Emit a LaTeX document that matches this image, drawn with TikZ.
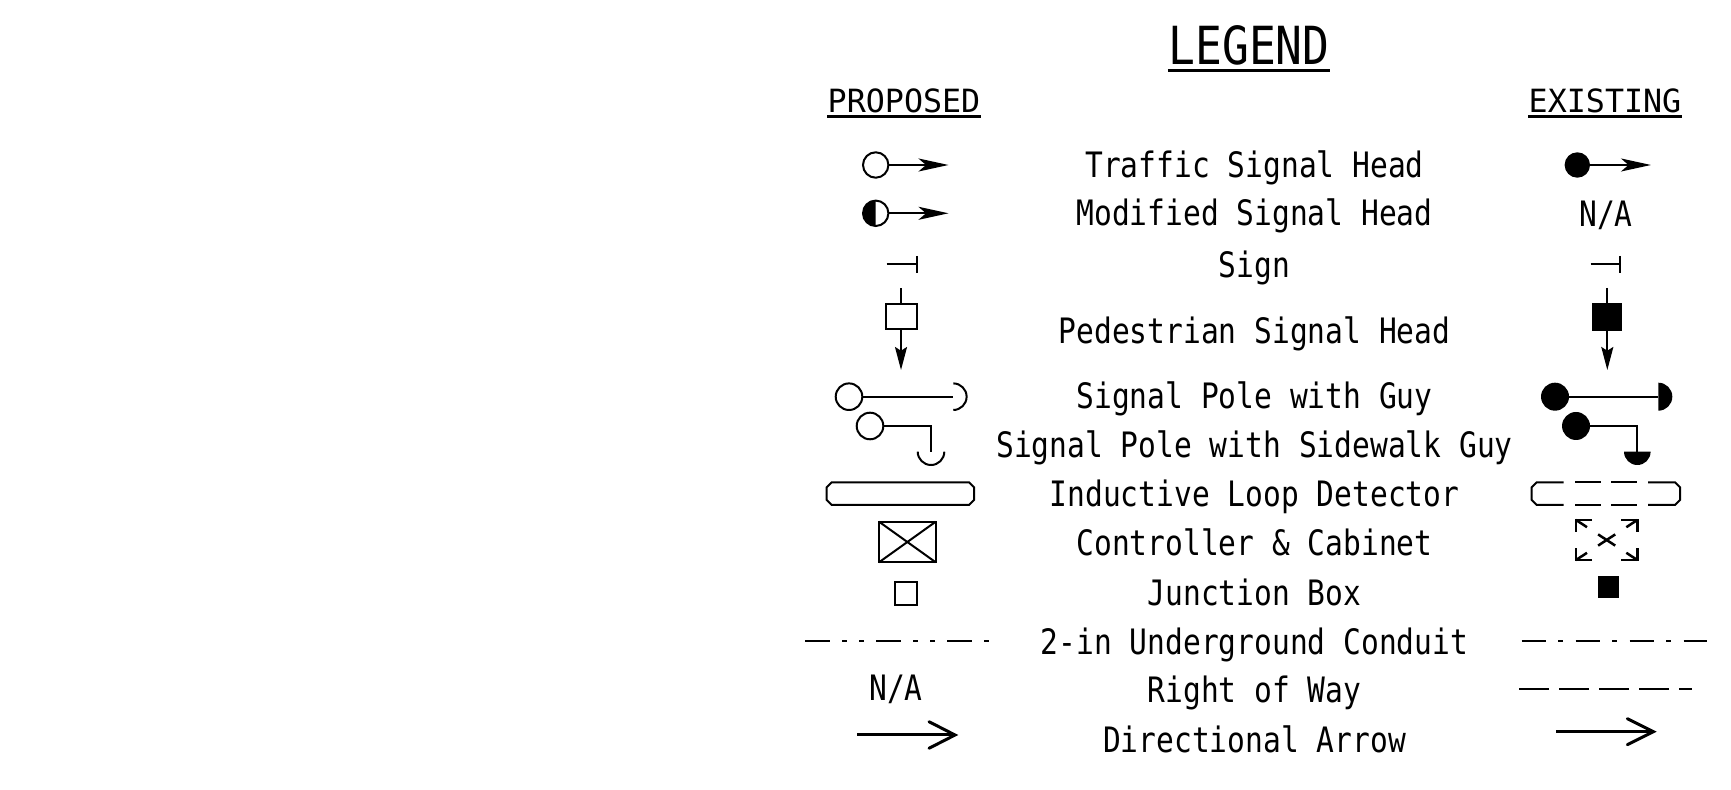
\documentclass[tikz,border=0pt]{standalone}
\usepackage{fontspec}
\usetikzlibrary{arrows.meta,calc}
\newfontfamily\cadfont[FakeStretch=0.845]{DejaVu Sans Mono}
\newfontfamily\cadhead[FakeStretch=0.99]{DejaVu Sans Mono}
\newfontfamily\cadtitle[FakeStretch=0.85]{DejaVu Sans Mono}
\begin{document}
\begin{tikzpicture}[x=0.4pt,y=-0.4pt,
  lbl/.style={font=\cadfont\fontsize{14pt}{14pt}\selectfont, inner sep=0pt, anchor=base},
  head/.style={font=\cadhead\fontsize{12.8pt}{12.8pt}\selectfont, inner sep=0pt, anchor=base},
  ttl/.style={font=\cadtitle\fontsize{21pt}{21pt}\selectfont, inner sep=0pt, anchor=base},
  sym/.style={line width=0.8pt},
  thinline/.style={line width=0.7pt},
  sigarrow/.style={line width=0.8pt,-{Stealth[length=12pt,width=5.2pt,inset=3pt]}},
  pedarrow/.style={line width=0.8pt,-{Stealth[length=9.2pt,width=4.8pt,inset=1.5pt]}},
  dirarrow/.style={line width=1.2pt},
  ddconduit/.style={thinline,dash pattern=on 10pt off 4.8pt on 2pt off 4.8pt on 2pt off 4.8pt},
  dconduit/.style={thinline,dash pattern=on 9.6pt off 5pt on 2pt off 5pt},
  rowline/.style={thinline,dash pattern=on 12pt off 4pt}
]
\useasboundingbox (0,0) rectangle (1731,790);
\fill[white] (0,0) rectangle (1731,790);

% ---- headings ----
\node[ttl] (legend) at (1249,64.8) {LEGEND};
\draw[line width=1.2pt] ([yshift=-2.2pt]legend.base west) -- ([yshift=-2.2pt]legend.base east);
\node[head] (proposed) at (904,112.7) {PROPOSED};
\draw[line width=1pt] ([yshift=-1.6pt]proposed.base west) -- ([yshift=-1.6pt]proposed.base east);
\node[head] (existing) at (1605,112.7) {EXISTING};
\draw[line width=1pt] ([yshift=-1.6pt]existing.base west) -- ([yshift=-1.6pt]existing.base east);

% ---- labels ----
\node[lbl] (t1) at (1254.5,177.2) {Traffic Signal Head};
\node[lbl] (t2) at (1254.5,225.6) {Modified Signal Head};
\node[lbl] (t3) at (1254.5,277.5) {Sign};
\node[lbl] (t4) at (1254.5,343.8) {Pedestrian Signal Head};
\node[lbl] (t5) at (1254.5,408.8) {Signal Pole with Guy};
\node[lbl] (t6) at (1254.5,457.8) {Signal Pole with Sidewalk Guy};
\node[lbl] (t7) at (1254.5,506.4) {Inductive Loop Detector};
\node[lbl] (t8) at (1254.5,555.5) {Controller \& Cabinet};
\node[lbl] (t9) at (1254.5,605.3) {Junction Box};
\node[lbl] (t10) at (1254.5,654.6) {2-in Underground Conduit};
\node[lbl] (t11) at (1254.5,702.6) {Right of Way};
\node[lbl] (t12) at (1254.5,752.8) {Directional Arrow};
\node[lbl] (naE) at (1606,227) {N/A};
\node[lbl] (naP) at (896,701) {N/A};

% ---- row 1: traffic signal head ----
\draw[sym] (875.7,165) circle[radius=5.08pt];
\draw[sigarrow] (888.4,165) -- (948.5,165);
\fill (1577.3,165) circle[radius=5.08pt];
\draw[sigarrow] (1588,165) -- (1651,165);

% ---- row 2: modified signal head ----
\fill (875.7,213.3) ++(0pt,5.08pt) arc[start angle=90,end angle=270,radius=5.08pt] -- cycle;
\draw[sym] (875.7,213.3) circle[radius=5.08pt];
\draw[sigarrow] (888.4,213.3) -- (948.5,213.3);

% ---- row 3: sign ----
\draw[sym] (886.7,264) -- (916.7,264);
\draw[sym] (916.7,256) -- (916.7,272.7);
\draw[sym] (1590.7,264) -- (1620,264);
\draw[sym] (1620,256) -- (1620,272.7);

% ---- row 4: pedestrian signal head ----
\draw[sym] (901,288.3) -- (901,304);
\draw[sym] (885.7,304) rectangle (916.7,329.3);
\draw[pedarrow] (901,329.3) -- (901,370);
\draw[sym] (1607.3,288) -- (1607.3,304);
\fill (1591.7,303.3) rectangle (1621.7,330.7);
\draw[pedarrow] (1607.3,330) -- (1607.3,370);

% ---- row 5: signal pole with guy ----
\draw[sym] (849,396.7) circle[radius=5.32pt];
\draw[sym] (862.3,396.7) -- (953.3,396.7);
\draw[sym] (953.3,396.7) ++(0pt,5.32pt) arc[start angle=90,end angle=-90,radius=5.32pt];
\fill (1555,396.7) circle[radius=5.6pt];
\draw[sym] (1566,396.7) -- (1658.3,396.7);
\fill (1658.3,396.7) ++(0pt,5.6pt) arc[start angle=90,end angle=-90,radius=5.6pt] -- cycle;

% ---- row 6: signal pole with sidewalk guy ----
\draw[sym] (870,426) circle[radius=5.32pt];
\draw[sym] (883.3,426) -- (931,426) -- (931,451.7);
\draw[sym] (931,451.7) ++(-5.32pt,0pt) arc[start angle=180,end angle=360,radius=5.32pt];
\fill (1576,426) circle[radius=5.6pt];
\draw[sym] (1587,426) -- (1637.3,426) -- (1637.3,452);
\fill (1637.3,451.7) ++(-5.32pt,0pt) arc[start angle=180,end angle=360,radius=5.32pt] -- cycle;

% ---- row 7: inductive loop detector ----
\draw[sym] (831.7,482.3) -- (969,482.3) -- (974,487.3) -- (974,500) -- (969,505)
  -- (831.7,505) -- (826.7,500) -- (826.7,487.3) -- cycle;
\draw[sym] (1563.7,482.3) -- (1536.7,482.3) -- (1531.7,487.3) -- (1531.7,500) -- (1536.7,505) -- (1563.7,505);
\draw[sym] (1648,482.3) -- (1675,482.3) -- (1680,487.3) -- (1680,500) -- (1675,505) -- (1648,505);
\draw[sym] (1575,482.3) -- (1601,482.3);
\draw[sym] (1611,482.3) -- (1637,482.3);
\draw[sym] (1575,505) -- (1601,505);
\draw[sym] (1611,505) -- (1637,505);

% ---- row 8: controller & cabinet ----
\draw[sym] (879,521.7) rectangle (935.7,562.3);
\draw[sym] (879,521.7) -- (935.7,562.3);
\draw[sym] (935.7,521.7) -- (879,562.3);
\begin{scope}[line width=1pt]
\draw (1592,520) -- (1576,520) -- (1576,532);
\draw (1621.3,520) -- (1637.3,520) -- (1637.3,532);
\draw (1592,560) -- (1576,560) -- (1576,548);
\draw (1621.3,560) -- (1637.3,560) -- (1637.3,548);
\draw (1576,520) -- (1587,527.2);
\draw (1637.3,560) -- (1626.3,552.8);
\draw (1637.3,520) -- (1626.3,527.2);
\draw (1576,560) -- (1587,552.8);
\draw (1598.1,534.4) -- (1615.2,545.6);
\draw (1615.2,534.4) -- (1598.1,545.6);
\end{scope}

% ---- row 9: junction box ----
\draw[sym] (895,582.3) rectangle (916.7,605);
\fill (1598.3,576) rectangle (1619,598.3);

% ---- row 10: conduit ----
\draw[ddconduit] (805,641) -- (991,641);
\draw[dconduit] (1521.6,641) -- (1707,641);

% ---- row 11: right of way ----
\draw[rowline] (1519,689.3) -- (1692,689.3);

% ---- row 12: directional arrow ----
\coordinate (pa0) at (857.3,735);
\coordinate (pa1) at (955,735);
\draw[dirarrow] (pa0) -- (pa1);
\draw[dirarrow,line cap=round] (929,721.7) -- (pa1) -- (929,748.3);
\coordinate (ea0) at (1556,731.7);
\coordinate (ea1) at (1653.3,731.7);
\draw[dirarrow] (ea0) -- (ea1);
\draw[dirarrow,line cap=round] (1627.3,718.7) -- (ea1) -- (1627.3,744.7);
\end{tikzpicture}
\end{document}
